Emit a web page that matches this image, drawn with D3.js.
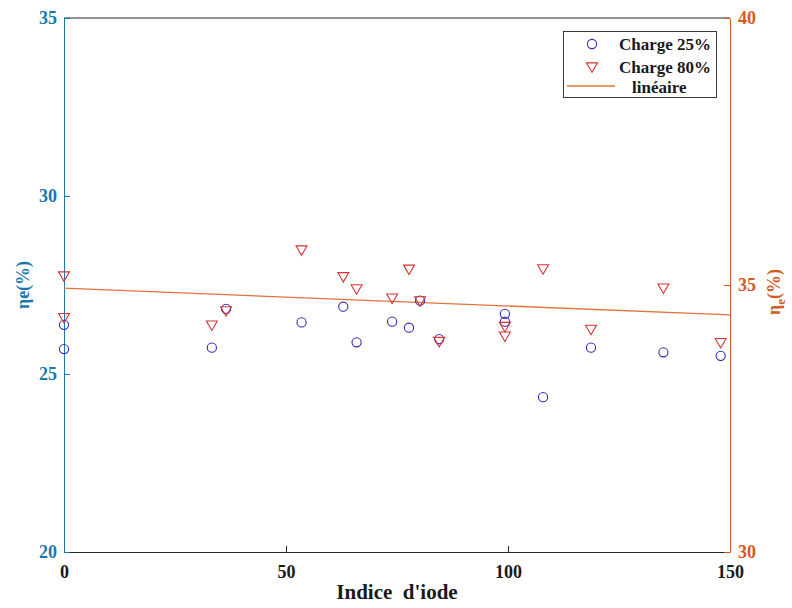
<!DOCTYPE html>
<html>
<head>
<meta charset="utf-8">
<script src="https://cdn.jsdelivr.net/npm/d3@7"></script>
<style>
  html, body { margin: 0; padding: 0; background: #fff; }
  svg { display: block; }
  text { font-family: "Liberation Serif", "Times New Roman", serif; font-weight: bold; }
</style>
</head>
<body>
<svg id="chart" width="792" height="608"></svg>
<script>
// ---- data ----
const xTicks = [0, 50, 100, 150];
const leftTicks = [20, 25, 30, 35];
const rightTicks = [30, 35, 40];

const charge25X = [0, 0, 33.3, 36.5, 53.5, 62.9, 65.9, 73.9, 77.7, 80.2, 84.5, 99.3, 99.3, 107.9, 118.7, 135.0, 147.9];
const charge25Y = [26.38, 25.70, 25.74, 26.83, 26.45, 26.89, 25.89, 26.47, 26.30, 27.06, 25.98, 26.69, 26.47, 24.35, 25.74, 25.61, 25.51];

const charge80X = [0, 0, 33.3, 36.5, 53.5, 62.9, 65.9, 73.9, 77.7, 80.2, 84.5, 99.3, 99.3, 107.9, 118.7, 135.0, 147.9];
const charge80Y = [27.78, 26.61, 26.40, 26.80, 28.51, 27.76, 27.42, 27.16, 27.97, 27.08, 25.94, 26.36, 26.09, 27.98, 26.28, 27.44, 25.91];

const fitX = [0, 150];
const fitY = [34.94, 34.44];   // right axis

const legendLabels = ["Charge 25%", "Charge 80%", "linéaire"];

// ---- styles ----
const leftColor = "#1b78ad";
const rightColor = "#d45a22";
const axisColor = "#262626";
const blue = "#2b2bb5";
const red = "#d33434";
const fitColor = "#e0743a";

const svg = d3.select("#chart");
const L = 64, R = 730, T = 18, B = 552;

const x = d3.scaleLinear().domain([0, 150]).range([L, R]);
const yL = d3.scaleLinear().domain([20, 35]).range([B, T]);
const yR = d3.scaleLinear().domain([30, 40]).range([B, T]);

// top border
svg.append("line").attr("x1", L).attr("x2", R).attr("y1", T).attr("y2", T)
  .attr("stroke", axisColor).attr("stroke-width", 1);

const tickFont = "18px";

// bottom axis
const gx = svg.append("g").attr("transform", `translate(0,${B})`)
  .call(d3.axisBottom(x).tickValues(xTicks).tickSizeInner(-6).tickSizeOuter(0).tickPadding(13));
gx.select(".domain").attr("stroke", axisColor);
gx.selectAll(".tick line").attr("stroke", axisColor);
gx.selectAll(".tick text").attr("fill", "#1a1a1a").style("font-size", tickFont)
  .style("font-family", "Liberation Serif").style("font-weight", "bold");

// left axis
const gl = svg.append("g").attr("transform", `translate(${L},0)`)
  .call(d3.axisLeft(yL).tickValues(leftTicks).tickSizeInner(-6).tickSizeOuter(0).tickPadding(7));
gl.select(".domain").attr("stroke", leftColor);
gl.selectAll(".tick line").attr("stroke", leftColor);
gl.selectAll(".tick text").attr("fill", leftColor).style("font-size", tickFont)
  .style("font-family", "Liberation Serif").style("font-weight", "bold");

// right axis
const gr = svg.append("g").attr("transform", `translate(${R},0)`)
  .call(d3.axisRight(yR).tickValues(rightTicks).tickSizeInner(-6).tickSizeOuter(0).tickPadding(8));
gr.select(".domain").attr("stroke", rightColor);
gr.selectAll(".tick line").attr("stroke", rightColor);
gr.selectAll(".tick text").attr("fill", rightColor).style("font-size", tickFont)
  .style("font-family", "Liberation Serif").style("font-weight", "bold");

// fit line (right axis)
const fitData = fitX.map((v, i) => [v, fitY[i]]);
svg.append("path").datum(fitData)
  .attr("d", d3.line().x(d => x(d[0])).y(d => yR(d[1])))
  .attr("fill", "none").attr("stroke", fitColor).attr("stroke-width", 1.3);

// circles (Charge 25%)
const c25 = charge25X.map((v, i) => [v, charge25Y[i]]);
svg.append("g").selectAll("circle").data(c25).join("circle")
  .attr("cx", d => x(d[0])).attr("cy", d => yL(d[1])).attr("r", 4.6)
  .attr("fill", "none").attr("stroke", blue).attr("stroke-width", 1.1);

// triangles (Charge 80%)
const tri = d3.symbol().type(d3.symbolTriangle).size(52);
const c80 = charge80X.map((v, i) => [v, charge80Y[i]]);
svg.append("g").selectAll("path").data(c80).join("path")
  .attr("d", tri)
  .attr("transform", d => `translate(${x(d[0])},${yL(d[1])}) rotate(180)`)
  .attr("fill", "none").attr("stroke", red).attr("stroke-width", 1.1);

// axis titles
svg.append("text").attr("x", 397).attr("y", 599)
  .attr("text-anchor", "middle").attr("fill", "#1a1a1a").style("font-size", "21px")
  .style("white-space", "pre").attr("xml:space", "preserve")
  .text("Indice  d'iode");

svg.append("text").attr("transform", `translate(29,${(T + B) / 2}) rotate(-90)`)
  .attr("text-anchor", "middle").attr("fill", leftColor).style("font-size", "18px")
  .text("ηe(%)");

const rt = svg.append("text").attr("transform", `translate(780,292) rotate(-90)`)
  .attr("text-anchor", "middle").attr("fill", rightColor).style("font-size", "18px");
rt.append("tspan").text("η");
rt.append("tspan").attr("dy", 5).style("font-size", "13px").text("e");
rt.append("tspan").attr("dy", -5).text("(%)");

// legend
const lg = svg.append("g");
lg.append("rect").attr("x", 563.5).attr("y", 31.5).attr("width", 153).attr("height", 66)
  .attr("fill", "#fff").attr("stroke", axisColor).attr("stroke-width", 0.9);
lg.append("circle").attr("cx", 592).attr("cy", 44).attr("r", 4.6)
  .attr("fill", "none").attr("stroke", blue).attr("stroke-width", 1.1);
lg.append("path").attr("d", tri).attr("transform", "translate(592,66) rotate(180)")
  .attr("fill", "none").attr("stroke", red).attr("stroke-width", 1.1);
lg.append("line").attr("x1", 567).attr("x2", 615).attr("y1", 86).attr("y2", 86)
  .attr("stroke", fitColor).attr("stroke-width", 1.3);
const ly = [50, 73, 93];
const lx = [619, 619, 632];
legendLabels.forEach((t, i) => {
  lg.append("text").attr("x", lx[i]).attr("y", ly[i]).attr("fill", "#1a1a1a")
    .style("font-size", "17px").text(t);
});
</script>
</body>
</html>
